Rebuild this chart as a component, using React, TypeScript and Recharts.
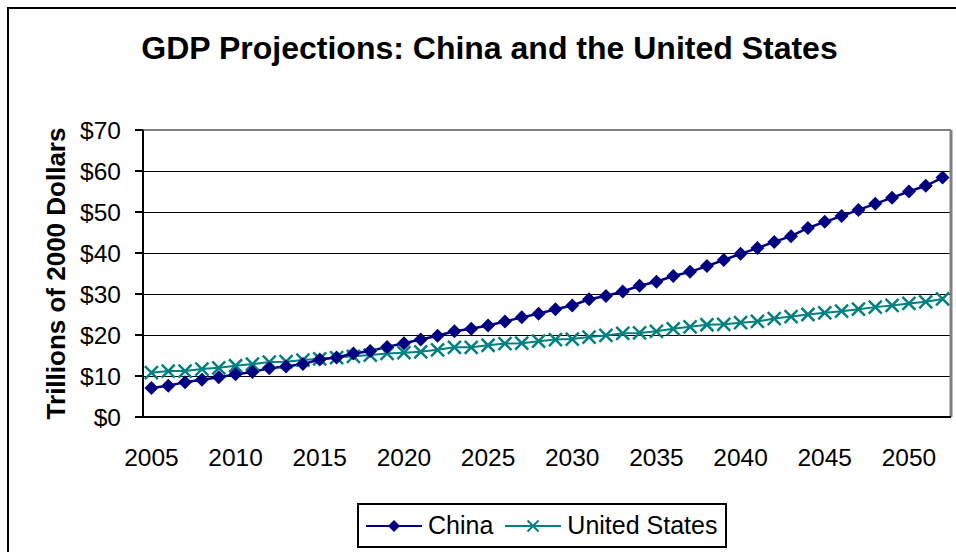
import { CartesianGrid, Line, LineChart, ReferenceLine, XAxis, YAxis } from 'recharts';

const years = [
    2005, 2006, 2007, 2008, 2009, 2010, 2011, 2012, 2013, 2014, 2015, 2016,
    2017, 2018, 2019, 2020, 2021, 2022, 2023, 2024, 2025, 2026, 2027, 2028,
    2029, 2030, 2031, 2032, 2033, 2034, 2035, 2036, 2037, 2038, 2039, 2040,
    2041, 2042, 2043, 2044, 2045, 2046, 2047, 2048, 2049, 2050, 2051, 2052,
];

// trillions of 2000 dollars
const china = [
    7.1, 7.6, 8.5, 9.1, 9.7, 10.4, 11.0, 11.9, 12.3, 12.9, 14.0, 14.5,
    15.5, 16.1, 17.1, 18.0, 18.9, 19.8, 20.9, 21.5, 22.3, 23.3, 24.3, 25.2,
    26.3, 27.2, 28.7, 29.5, 30.6, 32.0, 33.0, 34.4, 35.4, 36.8, 38.3, 39.8,
    41.2, 42.7, 44.1, 46.1, 47.6, 49.0, 50.5, 52.0, 53.5, 55.0, 56.4, 58.4,
];

const unitedStates = [
    10.8, 11.2, 11.2, 11.7, 12.0, 12.5, 12.9, 13.4, 13.5, 13.9, 14.2, 14.5,
    14.8, 15.1, 15.5, 15.7, 15.9, 16.4, 17.0, 17.0, 17.5, 17.9, 18.0, 18.5,
    18.9, 19.0, 19.5, 19.9, 20.4, 20.5, 20.9, 21.5, 22.0, 22.5, 22.6, 23.0,
    23.3, 24.0, 24.5, 25.0, 25.4, 25.8, 26.3, 26.8, 27.2, 27.7, 28.1, 28.8,
];

const labelYears = [2005, 2010, 2015, 2020, 2025, 2030, 2035, 2040, 2045, 2050];
const yTicks = [0, 10, 20, 30, 40, 50, 60, 70];

const NAVY = '#000080';
const TEAL = '#008080';
const FONT = "'Liberation Sans', Arial, sans-serif";

const data = years.map((year, i) => ({ year, china: china[i], us: unitedStates[i] }));
// tick marks sit between the categories, like Excel's category axis
const boundaries = [...years.map(y => y - 0.5), years[years.length - 1] + 0.5];
const domain = [boundaries[0], boundaries[boundaries.length - 1]];

const Diamond = (props: any) => {
    const { cx, cy, r = 6 } = props;
    if (cx == null || cy == null) return null;
    return <path d={`M${cx},${cy - r}L${cx + r},${cy}L${cx},${cy + r}L${cx - r},${cy}Z`} fill={NAVY} />;
};

const Cross = (props: any) => {
    const { cx, cy, r = 5.5, w = 2 } = props;
    if (cx == null || cy == null) return null;
    return <path d={`M${cx - r},${cy - r}L${cx + r},${cy + r}M${cx - r},${cy + r}L${cx + r},${cy - r}`}
        stroke={TEAL} strokeWidth={w} fill="none" />;
};

const YTick = (p: any) => (
    <text x={p.x} y={p.y} dy="0.36em" textAnchor="end" fontSize={24.5} fontFamily={FONT} fill="#000">
        ${p.payload.value}
    </text>
);

const XTick = (p: any) => (
    <text x={p.x} y={p.y} dy="0.71em" textAnchor="middle" fontSize={24.5} fontFamily={FONT} fill="#000">
        {p.payload.value}
    </text>
);

const GridLine = (p: any) => (
    <line key={p.key} x1={p.x1} y1={p.y1} x2={p.x2} y2={p.y2} stroke="#000" strokeWidth={1} shapeRendering="crispEdges" />
);

const YTitle = (props: any) => {
    const { viewBox } = props;
    const cy = viewBox.y + viewBox.height / 2;
    return <text transform={`translate(65, ${cy}) rotate(-90)`} textAnchor="middle"
        fontSize={26} fontWeight="bold" fontFamily={FONT} fill="#000">
        Trillions of 2000 Dollars
    </text>;
};

const Swatch = ({ color, marker }: { color: string, marker: 'diamond' | 'cross' }) => (
    <svg width={56} height={16} style={{ display: 'block' }}>
        <line x1={0} y1={8} x2={56} y2={8} stroke={color} strokeWidth={2} />
        {marker === 'diamond' ? <Diamond cx={28} cy={8} r={6} /> : <Cross cx={28} cy={8} r={5.5} />}
    </svg>
);

export default function App() {
    return <div style={{ position: 'absolute', left: 0, top: 0, width: 956, height: 552, background: '#fff', fontFamily: FONT, overflow: 'hidden' }}>
        <div style={{ position: 'absolute', left: 7, top: 7, width: 949, height: 545, borderTop: '2px solid #000', borderLeft: '2px solid #000', boxSizing: 'border-box' }} />
        <div style={{ position: 'absolute', left: 0, top: 32, width: 979, textAlign: 'center', fontSize: 32, lineHeight: '32px', fontWeight: 'bold' }}>
            GDP Projections: China and the United States
        </div>
        <div style={{ position: 'absolute', left: 0, top: 0 }}>
            <LineChart width={956} height={552} data={data} margin={{ top: 130, right: 5, bottom: 87, left: 0 }}>
                <CartesianGrid xAxisId="years" vertical={false} horizontal={GridLine} />
                <XAxis xAxisId="marks" dataKey="year" type="number" domain={domain} ticks={boundaries}
                    interval={0} height={8} tickSize={8} tick={false}
                    axisLine={{ stroke: '#000', strokeWidth: 2 }} tickLine={{ stroke: '#000', strokeWidth: 2 }} />
                <XAxis xAxisId="years" dataKey="year" type="number" domain={domain} ticks={labelYears}
                    interval={0} height={40} tickSize={0} tickMargin={24} axisLine={false} tickLine={false}
                    tick={<XTick />} />
                <YAxis domain={[0, 70]} ticks={yTicks} interval={0} width={143} tickSize={8} tickMargin={14}
                    axisLine={{ stroke: '#000', strokeWidth: 2 }} tickLine={{ stroke: '#000', strokeWidth: 2 }}
                    tick={<YTick />}
                    label={<YTitle />} />
                <ReferenceLine xAxisId="years" y={70} stroke="#808080" strokeWidth={2} />
                <ReferenceLine xAxisId="years" x={domain[1]} stroke="#808080" strokeWidth={3} />
                <Line xAxisId="years" dataKey="us" name="United States" stroke={TEAL} strokeWidth={2}
                    dot={(p: any) => <Cross key={`us-${p.index}`} {...p} r={6.5} w={2.5} />} activeDot={false} isAnimationActive={false} />
                <Line xAxisId="years" dataKey="china" name="China" stroke={NAVY} strokeWidth={2.5}
                    dot={(p: any) => <Diamond key={`cn-${p.index}`} {...p} r={7} />} activeDot={false} isAnimationActive={false} />
            </LineChart>
        </div>
        <div style={{ position: 'absolute', left: 357, top: 503, width: 370, height: 45, boxSizing: 'border-box', border: '2px solid #000', background: '#fff', display: 'flex', alignItems: 'center', paddingLeft: 7, fontSize: 25 }}>
            <Swatch color={NAVY} marker="diamond" />
            <span style={{ marginLeft: 6, marginRight: 12 }}>China</span>
            <Swatch color={TEAL} marker="cross" />
            <span style={{ marginLeft: 6 }}>United States</span>
        </div>
    </div>;
}
